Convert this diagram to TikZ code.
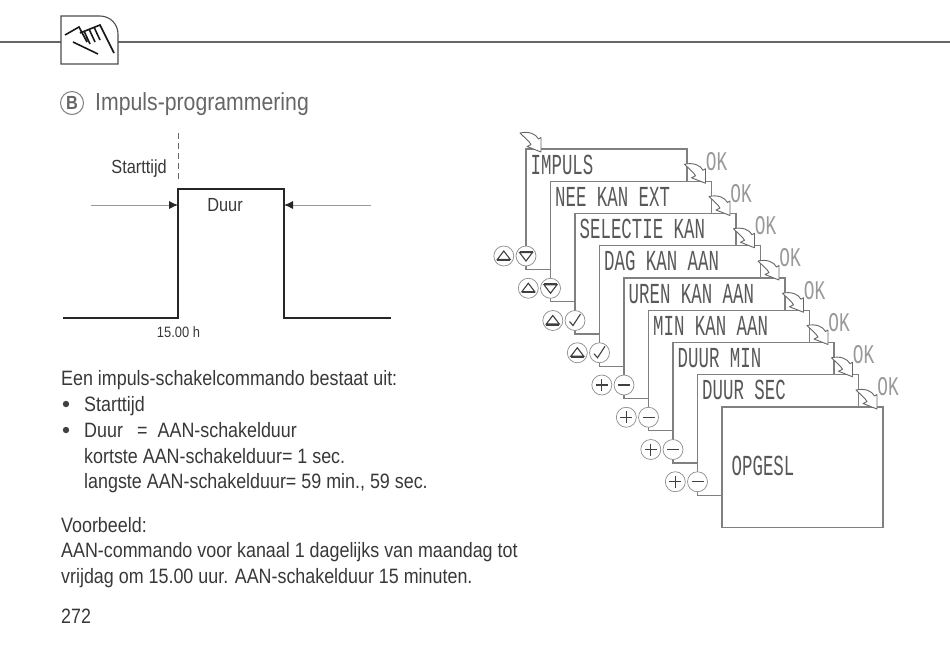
\documentclass[tikz,border=0pt]{standalone}
\usepackage{fontspec}
\usepackage{xcolor}
\setmainfont[FakeStretch=0.86]{Liberation Sans}
\newfontfamily\lcdfont[FakeStretch=0.6]{Liberation Mono}
\newfontfamily\okfont[FakeStretch=0.66]{Liberation Mono}
\usetikzlibrary{arrows.meta}
\newcommand{\bodysize}{\fontsize{20.8}{24}\selectfont}

\begin{document}
\begin{tikzpicture}[
  x=1pt, y=-1pt,
  txt/.style={anchor=base west, inner sep=0pt, text=black!78, font=\bodysize},
  screen/.style={draw=black!50, line width=1.3pt, fill=white, anchor=north west,
                 minimum width=161pt, minimum height=120.5pt, inner sep=0pt, outer sep=0pt},
  lcd/.style={anchor=base west, inner sep=0pt, text=black!65, font=\lcdfont\fontsize{29}{29}\selectfont},
  oklbl/.style={inner sep=0pt, text=black!40, font=\okfont\fontsize{27}{27}\selectfont},
  btn/.style={circle, draw=black!45, line width=0.7pt, fill=white, minimum size=20pt, inner sep=0pt},
  sym/.style={black!75, line width=1.1pt},
  btnup/.style={btn, path picture={\draw[sym] (-6.5,3.5) -- (6.5,3.5) -- (0,-5) -- cycle;
                                   \draw[sym] (-6.5,4.5) -- (6.5,4.5);}},
  btndown/.style={btn, path picture={\draw[sym] (-6.5,-3.5) -- (6.5,-3.5) -- (0,5) -- cycle;
                                     \draw[sym] (-6.5,-4.5) -- (6.5,-4.5);}},
  btncheck/.style={btn, path picture={\draw[sym] (-5.5,1) -- (-2,5) -- (5.5,-6.5);}},
  btnplus/.style={btn, path picture={\draw[sym] (-6,0) -- (6,0) (0,-6) -- (0,6);}},
  btnminus/.style={btn, path picture={\draw[sym] (-6,0) -- (6,0);}},
  pulse/.style={black!85, line width=1.2pt},
  dimarr/.style={black!40, line width=0.8pt, -{Latex[length=9pt,width=8pt,black!85]}},
  okarrow/.pic={\draw[black!60, line width=0.9pt, fill=white, line join=round]
      (-21,-19) .. controls (-12,-21) and (-5,-18) .. (-2.5,-13) -- (0,-14.5) -- (0,0)
      -- (-14,-5.5) -- (-10,-7.5) .. controls (-12,-11) and (-16,-14) .. cycle;}
]
\useasboundingbox (0,0) rectangle (950,646);

% header with the hand icon
\coordinate (iconL) at (61,42);
\coordinate (iconR) at (118,42);
\draw[black!60, line width=1.1pt] (0,42) -- (iconL) (iconR) -- (950,42);
\draw[black!70, line width=1.1pt] (61,16) -- (100,16) .. controls (110,16) and (118,24) .. (118,34)
  -- (118,64) -- (61,64) -- cycle;
\draw[black!90, line width=1.6pt] (65,35) -- (79,27) -- (87,42)
  (80,33) -- (100,25) -- (114,53) (73,42) -- (98,54)
  (84,31) -- (90,44) (89,29) -- (95,42) (94,27) -- (100,40);

% title
\node[circle, draw=black!50, line width=1pt, minimum size=23pt, inner sep=0pt, text=black!60,
      font=\fontsize{19}{19}\selectfont\bfseries] (bmark) at (72,103) {B};
\node[txt, text=black!60, font=\fontsize{24.7}{26}\selectfont] (title) at (95,110) {Impuls-programmering};

% pulse diagram
\draw[pulse] (63,318) -- (178,318) -- (178,189) -- (284,189) -- (284,318) -- (391,318);
\draw[black!60, dash pattern=on 6pt off 4pt, line width=0.8pt] (178,133) -- (178,183);
\coordinate (riseP) at (178,205);
\coordinate (fallP) at (284,205);
\draw[dimarr] (91,205) -- (riseP);
\draw[dimarr] (371,205) -- (fallP);
\node[txt, anchor=base east, font=\fontsize{19}{22}\selectfont] (start) at (167,173) {Starttijd};
\node[txt, anchor=base, font=\fontsize{19}{22}\selectfont] (duur) at (225,211) {Duur};
\node[txt, anchor=base, font=\fontsize{15}{18}\selectfont] (hour) at (178.5,337) {15.00 h};

% text block
\node[txt] (line1) at (61,385) {Een impuls-schakelcommando bestaat uit:};
\fill[black!75] (66,404) circle[radius=3.2];
\node[txt] (line2) at (84,411) {Starttijd};
\fill[black!75] (66,430) circle[radius=3.2];
\node[txt] (line3) at (84,437) {Duur};
\node[txt] (line3b) at (137,437) {=\hspace{10pt}AAN-schakelduur};
\node[txt] (line4) at (84,463) {kortste AAN-schakelduur= 1 sec.};
\node[txt] (line5) at (84,488) {langste AAN-schakelduur= 59 min., 59 sec.};
\node[txt] (line6) at (61,532) {Voorbeeld:};
\node[txt] (line7) at (61,557) {AAN-commando voor kanaal 1 dagelijks van maandag tot};
\node[txt] (line8) at (61,583) {vrijdag om 15.00 uur. AAN-schakelduur 15 minuten.};
\node[txt] (page) at (61,623) {272};

% stacked display screens
\foreach \i/\word/\lbtn/\rbtn in {1/IMPULS/btnup/btndown, 2/NEE KAN EXT/btnup/btndown,
    3/SELECTIE KAN/btnup/btncheck, 4/DAG KAN AAN/btnup/btncheck, 5/UREN KAN AAN/btnplus/btnminus,
    6/MIN KAN AAN/btnplus/btnminus, 7/DUUR MIN/btnplus/btnminus, 8/DUUR SEC/btnplus/btnminus} {
  \node[screen] (s\i) at ({526+24.5*(\i-1)},{149+32.25*(\i-1)}) {};
  \node[lcd] (w\i) at ([xshift=4.5pt,yshift=-25pt]s\i.north west) {\word};
  \node[\rbtn] (r\i) at ([yshift=-107pt]s\i.north west) {};
  \node[\lbtn, left=1.5pt] (l\i) at (r\i.west) {};
}
\node[screen] (s9) at (722,407) {};
\node[lcd] (w9) at (731.5,475) {OPGESL};

% curved arrows, OK labels
\pic at ([xshift=15pt,yshift=-3pt]s1.north west) {okarrow};
\foreach \i in {2,...,9} {
  \pic at ([xshift=-6pt,yshift=-2pt]s\i.north east) {okarrow};
  \node[oklbl] (ok\i) at ([xshift=5pt,yshift=20pt]s\i.north east) {OK};
}
\end{tikzpicture}
\end{document}
